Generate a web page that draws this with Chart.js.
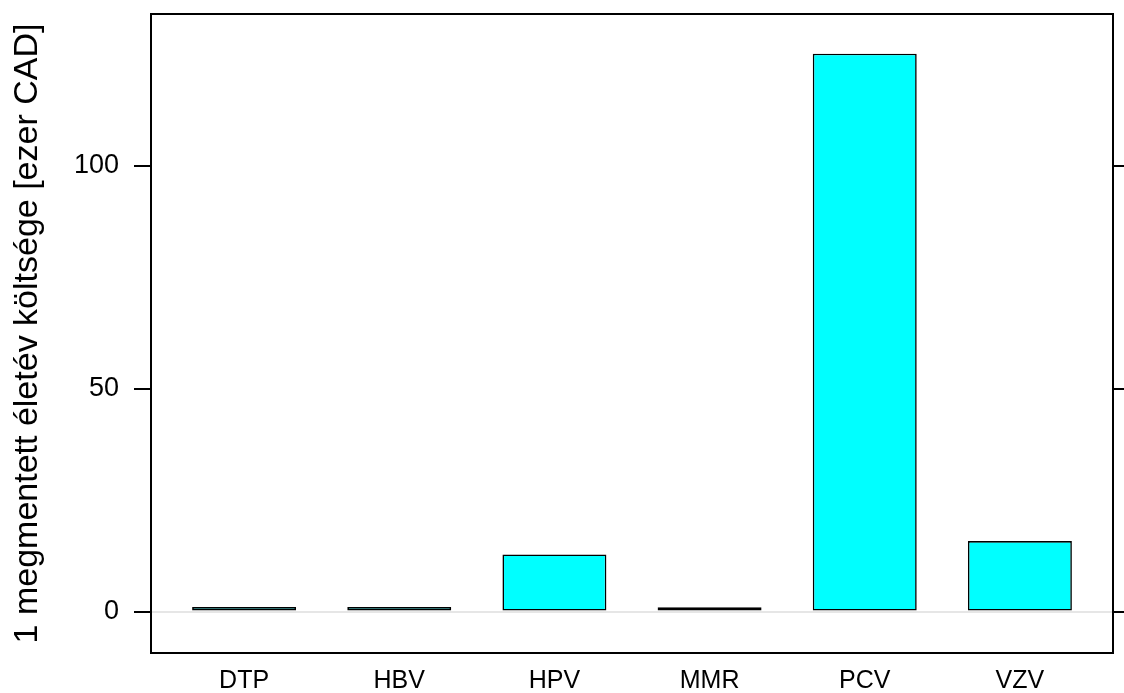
<!DOCTYPE html>
<html>
<head>
<meta charset="utf-8">
<script src="https://cdn.jsdelivr.net/npm/chart.js@4"></script>
<style>
html,body{margin:0;padding:0;background:#fff;}
#wrap{width:1124px;height:693px;}
</style>
</head>
<body>
<div id="wrap"><canvas id="c" width="1124" height="693"></canvas></div>
<script>
const categories = ["DTP", "HBV", "HPV", "MMR", "PCV", "VZV"];
const costValues = [1.0, 1.0, 12.8, 0.95, 125.1, 15.8];
const yTickValues = [0, 50, 100];
const yTitle = "1 megmentett életév költsége [ezer CAD]";

const FONT = "'Liberation Sans', Arial, sans-serif";

const boxPlugin = {
  id: 'box',
  afterDatasetsDraw(chart) {
    const a = chart.chartArea, ctx = chart.ctx;
    ctx.save();
    ctx.strokeStyle = '#000';
    ctx.lineWidth = 2;
    ctx.strokeRect(a.left, a.top, a.right - a.left, a.bottom - a.top);
    ctx.restore();
  }
};

const yTicksFn = (scale) => { scale.ticks = yTickValues.map(v => ({value: v})); };
const noPad = (s) => { s.paddingTop = 0; s.paddingBottom = 0; };

new Chart(document.getElementById('c'), {
  type: 'bar',
  data: {
    datasets: [{
      data: categories.map((c, i) => ({x: i + 1, y: costValues[i]})),
      backgroundColor: '#00ffff',
      borderColor: '#000',
      borderWidth: 1.6,
      borderSkipped: false,
      categoryPercentage: 1,
      barPercentage: 0.67
    }]
  },
  plugins: [boxPlugin],
  options: {
    responsive: false,
    animation: false,
    layout: {padding: {left: 0, right: 0, top: 14, bottom: 0}},
    plugins: {legend: {display: false}, tooltip: {enabled: false}},
    scales: {
      x: {
        type: 'linear',
        offset: false,
        min: 0.4, max: 6.6,
        afterBuildTicks: (s) => { s.ticks = categories.map((c, i) => ({value: i + 1})); },
        afterFit: (s) => { s.height = 40; s.paddingLeft = 0; s.paddingRight = 0; },
        grid: {display: false},
        border: {display: false},
        ticks: {
          autoSkip: false, maxRotation: 0,
          padding: 5,
          color: '#000',
          font: {family: FONT, size: 25},
          callback: (v) => categories[Math.round(v) - 1] || ''
        }
      },
      y: {
        position: 'left',
        min: -9.3, max: 134,
        afterBuildTicks: yTicksFn,
        afterFit: (s) => { s.width = 151; noPad(s); },
        border: {display: false},
        grid: {
          drawOnChartArea: true,
          color: (ctx) => ctx.tick && ctx.tick.value === 0 ? '#e6e6e6' : 'rgba(0,0,0,0)',
          lineWidth: 2,
          tickColor: '#000',
          tickLength: 17
        },
        ticks: {
          padding: 15,
          color: '#000',
          font: {family: FONT, size: 27}
        },
        title: {
          display: true,
          text: yTitle,
          color: '#000',
          font: {family: FONT, size: 34},
          padding: {top: 7, bottom: 0}
        }
      },
      y2: {
        position: 'right',
        min: -9.3, max: 134,
        afterBuildTicks: yTicksFn,
        afterFit: (s) => { s.width = 11; noPad(s); },
        border: {display: false},
        grid: {drawOnChartArea: false, tickColor: '#000', tickLength: 11, lineWidth: 2},
        ticks: {display: false}
      }
    }
  }
});
</script>
</body>
</html>
